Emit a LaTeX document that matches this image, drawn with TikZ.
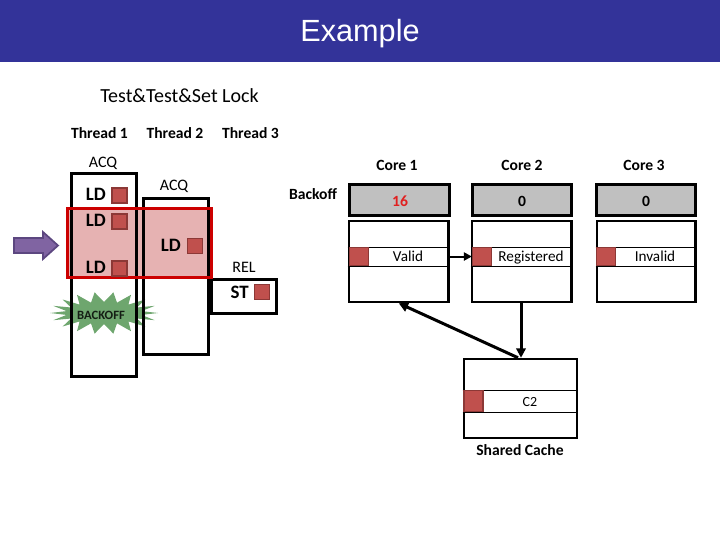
\documentclass[tikz,border=0pt]{standalone}
\usepackage{fontspec}
\setmainfont{Carlito}
\newfontfamily\arialf{Liberation Sans}
\usetikzlibrary{arrows.meta,fit}
\definecolor{barblue}{RGB}{51,51,153}
\definecolor{sqfill}{RGB}{192,80,77}
\definecolor{sqdraw}{RGB}{140,56,54}
\definecolor{pinkfill}{RGB}{230,178,178}
\definecolor{hired}{RGB}{204,0,0}
\definecolor{starfill}{RGB}{110,166,110}
\definecolor{arrowfill}{RGB}{128,100,162}
\definecolor{arrowdraw}{RGB}{92,71,128}
\definecolor{boxgray}{RGB}{192,192,192}
\definecolor{numred}{RGB}{224,32,32}
\begin{document}
\begin{tikzpicture}[x=0.75pt,y=-0.75pt,
  txt/.style={inner sep=0, anchor=base},
  hdr/.style={txt, font=\fontsize{11.7}{13}\selectfont\bfseries},
  reg/.style={txt, font=\fontsize{12}{14}\selectfont},
  cell/.style={txt, font=\fontsize{11.4}{13}\selectfont},
  ldtxt/.style={inner sep=0, anchor=base east, font=\fontsize{14.2}{16}\selectfont\bfseries},
  frame/.style={draw=black, line width=2.25pt, inner sep=0},
  cachebox/.style={draw=black, line width=1.9pt, inner sep=0},
  regbox/.style={draw=black, fill=boxgray, line width=2.6pt, inner sep=0},
  lsq/.style={draw=sqdraw, fill=sqfill, line width=1.1pt, minimum size=11pt, inner sep=0},
  csq/.style={draw=sqdraw, fill=sqfill, line width=1.1pt, minimum width=14pt, minimum height=13.5pt, inner sep=0},
  rowline/.style={line width=0.75pt},
  conn/.style={line width=2.25pt, -{Triangle[length=7pt,width=7pt]}},
  thinconn/.style={line width=1.5pt, -{Triangle[length=6pt,width=6pt]}}
]
\useasboundingbox (0,0) rectangle (720,540);
% title bar
\fill[barblue] (0,0) rectangle (720,62);
\node[txt, text=white, font=\arialf\fontsize{23}{26}\selectfont] (ttl) at (360,41) {Example};

% headings
\node[txt, font=\fontsize{15}{17}\selectfont] (lockttl) at (179.5,102) {Test\&Test\&Set Lock};
\node[hdr] (th1) at (99.5,138) {Thread 1};
\node[hdr] (th2) at (175,138) {Thread 2};
\node[hdr] (th3) at (250.5,138) {Thread 3};

% starburst
\fill[starfill] plot[samples=37, domain=0:36, variable=\i]
  ({104+(mod(\i,2)<0.5 ? 54 : 38)*cos(\i*10)}, {313+(mod(\i,2)<0.5 ? 21 : 11)*sin(\i*10)}) -- cycle;
\node[txt, font=\fontsize{9.5}{11}\selectfont\bfseries, text={rgb,255:red,20;green,30;blue,20}] (boff) at (101,319) {BACKOFF};

% highlight fill
\node[fit={(68,209)(211,277)}, inner sep=0, fill=pinkfill] (hl) {};

% thread frames
\node[frame, fit={(71,173)(136,376)}] (t1) {};
\node[frame, fit={(143,198)(208,354)}] (t2) {};
\node[frame, fit={(211,279)(276,313)}] (t3) {};

% highlight border
\draw[hired, line width=2.25pt] (hl.south west) rectangle (hl.north east);

% purple arrow
\filldraw[fill=arrowfill, draw=arrowdraw, line width=1.3pt]
  (14,238) -- (43,238) -- (43,232) -- (58,245.5) -- (43,259) -- (43,253) -- (14,253) -- cycle;

% thread labels
\node[reg] (acq1) at (103,167) {ACQ};
\node[reg] (acq2) at (174,190) {ACQ};
\node[reg] (rel) at (244,272) {REL};
\node[ldtxt] (ld1) at (106,200) {LD};
\node[lsq] (ld1s) at (119.5,195.5) {};
\node[ldtxt] (ld2) at (106,226) {LD};
\node[lsq] (ld2s) at (119.5,221.5) {};
\node[ldtxt] (ld3) at (106,273) {LD};
\node[lsq] (ld3s) at (119.5,268.5) {};
\node[ldtxt] (ld4) at (181,251) {LD};
\node[lsq] (ld4s) at (195,246) {};
\node[ldtxt] (st) at (249,298) {ST};
\node[lsq] (sts) at (262,292) {};

% cores
\node[hdr] (bk) at (313,199) {Backoff};
\node[hdr] (core1) at (397,170) {Core 1};
\node[hdr] (core2) at (522,170) {Core 2};
\node[hdr] (core3) at (644,170) {Core 3};

\node[regbox, fit={(349.5,184.5)(449.5,215.5)}] (b1) {};
\node[regbox, fit={(472.5,184.5)(571.5,215.5)}] (b2) {};
\node[regbox, fit={(596.5,184.5)(695.5,215.5)}] (b3) {};
\node[hdr, text=numred] (v1) at (400,206) {16};
\node[hdr] (v2) at (522,206) {0};
\node[hdr] (v3) at (646,206) {0};

\node[cachebox, fit={(349,221)(448.5,302)}] (c1) {};
\node[cachebox, fit={(472,221)(571.5,302)}] (c2) {};
\node[cachebox, fit={(597,221)(695.5,302)}] (c3) {};
\foreach \b in {c1,c2,c3}{
  \draw[rowline] (\b.west |- 0,247) -- (\b.east |- 0,247);
  \draw[rowline] (\b.west |- 0,266) -- (\b.east |- 0,266);
}
\node[csq] (c1s) at (359,256.5) {};
\node[csq] (c2s) at (482,256.5) {};
\node[csq] (c3s) at (606,256.5) {};
\node[cell] (valid) at (408,261) {Valid};
\node[cell] (regd) at (531,261) {Registered};
\node[cell] (inval) at (655,261) {Invalid};

% shared cache
\node[cachebox, fit={(464,359)(577,438)}] (sh) {};
\draw[rowline] (sh.west |- 0,390) -- (sh.east |- 0,390);
\draw[rowline] (sh.west |- 0,412) -- (sh.east |- 0,412);
\node[csq, minimum height=15.5pt] (shs) at (473.5,401) {};
\node[txt, font=\fontsize{10.5}{12}\selectfont] (c2lbl) at (530,406) {C2};
\node[hdr] (shl) at (520,455) {Shared Cache};

% connectors
\draw[thinconn] (c1.east |- c1s) -- (c2s.west);
\draw[conn] (c2.south -| 521,0) -- (sh.north -| 521,0);
\draw[conn] (sh.north -| 518,0) -- (c1.south);
\end{tikzpicture}
\end{document}
